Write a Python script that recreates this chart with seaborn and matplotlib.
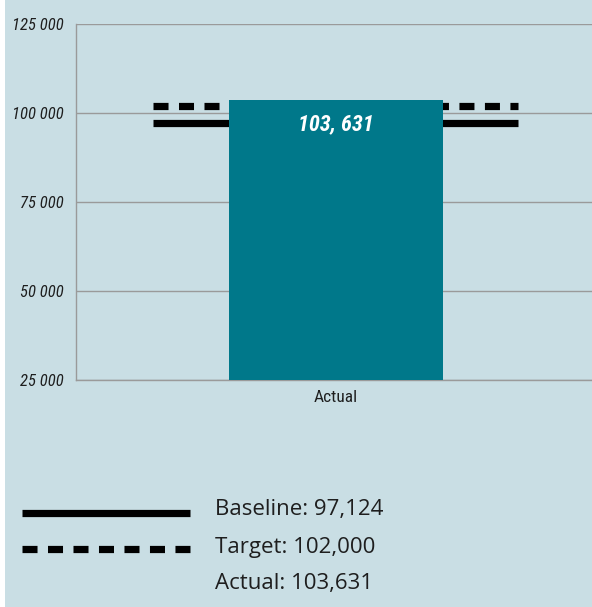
import matplotlib
matplotlib.use("Agg")
import matplotlib.pyplot as plt
import seaborn as sns
import pandas as pd
from matplotlib.patches import Rectangle
from matplotlib.lines import Line2D

# Values
categories = ["Actual"]
actual_values = [103631]
baseline_value = 97124
target_value = 102000
y_ticks = [25000, 50000, 75000, 100000, 125000]
y_tick_labels = ["25 000", "50 000", "75 000", "100 000", "125 000"]
value_label = "103, 631"
legend_labels = ["Baseline: 97,124", "Target: 102,000", "Actual: 103,631"]

BG = "#c9dee4"
BAR = "#00788a"
GRID = "#9a9a9a"
INK = "#1e1e1e"
LW = 5.2
DASH = (0, (2.08, 1.45))

sns.set_theme(style="white")
REGULAR = ["Open Sans", "PT Sans", "DejaVu Sans"]
CONDENSED = ["Roboto Condensed", "Fira Sans Condensed", "PT Sans Narrow",
             "Liberation Sans", "DejaVu Sans"]
plt.rcParams["font.family"] = REGULAR

fig = plt.figure(figsize=(5.92, 6.07), dpi=100)
fig.patch.set_facecolor("white")
fig.add_artist(Rectangle((5 / 592, 0), 1 - 5 / 592, 1, transform=fig.transFigure,
                         facecolor=BG, edgecolor="none", zorder=-10))

ax = fig.add_axes([76 / 592, 1 - 380 / 607, 1 - 76 / 592, (380 - 24) / 607])
ax.set_facecolor(BG)

df = pd.DataFrame({"category": categories, "value": actual_values})
sns.barplot(data=df, x="category", y="value", color=BAR, width=0.8,
            saturation=1, ax=ax, zorder=3, linewidth=0)

ax.set_ylim(25000, 125000)
ax.set_xlim(-0.972, 0.957)
ax.set_yticks(y_ticks)
ax.set_yticklabels(y_tick_labels, fontstyle="italic", fontsize=12, color=INK,
                   family=CONDENSED)
for lab in ax.get_xticklabels():
    lab.set_family(CONDENSED)
    lab.set_fontsize(12.5)
    lab.set_color(INK)
ax.tick_params(axis="y", length=0, pad=9)
ax.tick_params(axis="x", length=0, pad=7)
ax.set_xlabel("")
ax.set_ylabel("")

for y in y_ticks:
    ax.axhline(y, color=GRID, lw=1.0, zorder=1)

for side in ["top", "right"]:
    ax.spines[side].set_visible(False)
ax.spines["left"].set_color(GRID)
ax.spines["bottom"].set_color(GRID)
ax.spines["left"].set_linewidth(1.0)
ax.spines["bottom"].set_linewidth(1.0)

# Reference lines behind the bar
ax.hlines(baseline_value, -0.684, 0.680, color="black", lw=LW, zorder=2)
ax.hlines(target_value, -0.684, 0.680, color="black", lw=LW,
          linestyles=DASH, zorder=2)

ax.text(0, actual_values[0] - 3800, value_label, ha="center", va="top",
        color="white", fontsize=16, fontweight="bold", fontstyle="italic",
        family=CONDENSED, zorder=4)

# Legend block drawn in figure coordinates
def fy(py):
    return 1 - py / 607

fig.add_artist(Line2D([22 / 592, 190 / 592], [fy(513), fy(513)], color="black",
                      lw=LW, transform=fig.transFigure, solid_capstyle="butt"))
fig.add_artist(Line2D([22 / 592, 190 / 592], [fy(549), fy(549)], color="black",
                      lw=LW, transform=fig.transFigure,
                      linestyle=DASH, dash_capstyle="butt"))
for py, lab in zip([510, 547, 583], legend_labels):
    fig.text(215 / 592, fy(py), lab, ha="left", va="center",
             fontsize=16, fontweight="normal", color=INK)

fig.savefig("out.png", dpi=100, facecolor=fig.get_facecolor())
